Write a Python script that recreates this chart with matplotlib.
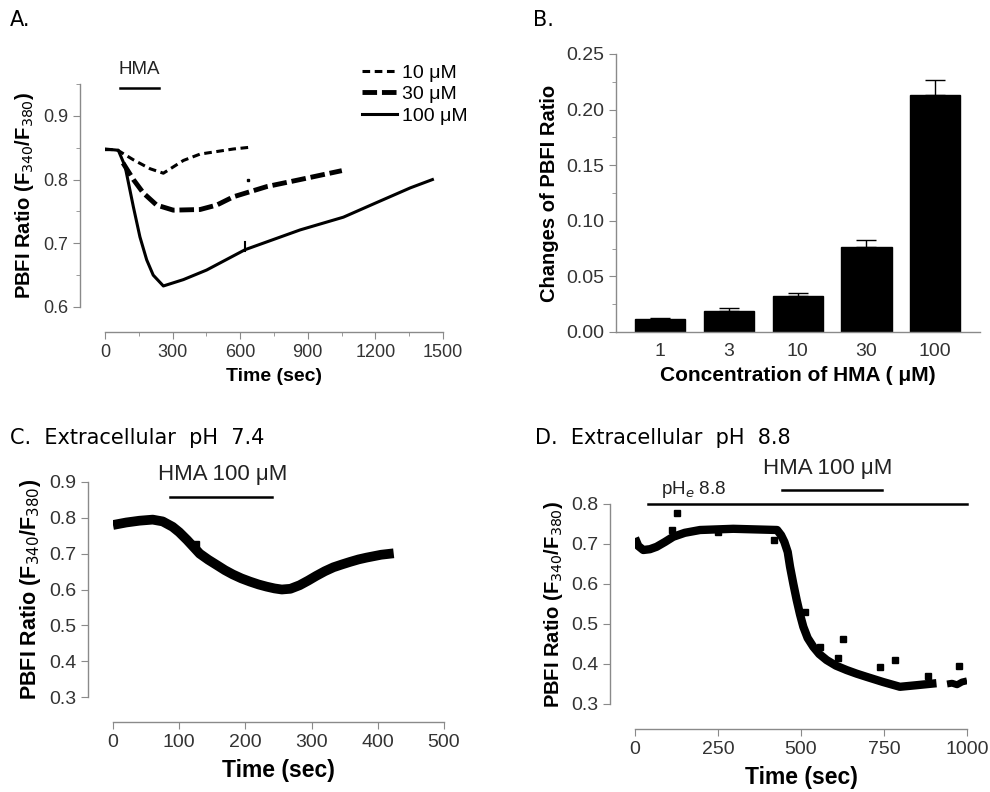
import matplotlib
matplotlib.use("Agg")
import matplotlib.pyplot as plt
from matplotlib.lines import Line2D
from matplotlib.ticker import MultipleLocator, FormatStrFormatter

plt.rcParams['font.family'] = ['Liberation Sans', 'DejaVu Sans']

# Panel A: time courses at three HMA doses
a10_t = [0, 52, 126, 200, 259, 348, 422, 496, 570, 651]
a10_v = [0.847, 0.847, 0.831, 0.817, 0.810, 0.830, 0.840, 0.844, 0.848, 0.851]
a30_t = [80, 126, 170, 229, 303, 422, 496, 570, 718, 866, 1051]
a30_v = [0.826, 0.800, 0.779, 0.760, 0.752, 0.753, 0.760, 0.773, 0.789, 0.800, 0.814]
a100_t = [0, 59, 89, 126, 155, 185, 214, 259, 348, 451, 622, 866, 1058, 1206, 1355, 1453]
a100_v = [0.848, 0.846, 0.821, 0.757, 0.710, 0.674, 0.650, 0.633, 0.643, 0.658, 0.690,
          0.721, 0.741, 0.764, 0.787, 0.800]
a_labels = ['10 μM', '30 μM', '100 μM']

# Panel B: dose response
b_conc = ['1', '3', '10', '30', '100']
b_mean = [0.012, 0.019, 0.032, 0.076, 0.213]
b_err = [0.001, 0.003, 0.003, 0.007, 0.014]

# Panel C: pH 7.4
c_t = [0, 20, 40, 60, 75, 90, 100, 112, 122, 131, 144, 157, 169, 181, 194, 207, 220, 232, 244,
       255, 268, 282, 295, 307, 320, 333, 346, 358, 371, 383, 405, 424]
c_v = [0.780, 0.787, 0.792, 0.795, 0.790, 0.775, 0.760, 0.738, 0.718, 0.700, 0.683, 0.668,
       0.654, 0.642, 0.631, 0.622, 0.614, 0.608, 0.603, 0.600, 0.602, 0.612, 0.625, 0.638,
       0.651, 0.662, 0.670, 0.677, 0.684, 0.689, 0.697, 0.701]

# Panel D: pH 8.8
d_t = [0, 10, 25, 45, 65, 90, 115, 150, 196, 296, 428, 440, 450, 460, 467, 477, 487, 497, 507,
       520, 537, 555, 577, 605, 637, 667, 697, 747, 798, 848, 908]
d_v = [0.715, 0.695, 0.685, 0.687, 0.693, 0.705, 0.718, 0.728, 0.735, 0.738, 0.735, 0.722,
       0.705, 0.680, 0.643, 0.600, 0.560, 0.524, 0.493, 0.465, 0.443, 0.425, 0.410, 0.396,
       0.385, 0.376, 0.368, 0.355, 0.343, 0.347, 0.352]
d_tail_t = [940, 955, 970, 985, 1000]
d_tail_v = [0.350, 0.352, 0.348, 0.355, 0.358]
d_out_t = [110, 127, 250, 420, 512, 557, 612, 627, 738, 783, 883, 977]
d_out_v = [0.735, 0.777, 0.730, 0.710, 0.530, 0.443, 0.415, 0.462, 0.393, 0.410, 0.370, 0.395]

SPINE = '#8a8a8a'
TICKC = '#333333'


def style_axes(ax, tsize, offset=True):
    for s in ['top', 'right']:
        ax.spines[s].set_visible(False)
    for s in ['left', 'bottom']:
        ax.spines[s].set_color(SPINE)
        ax.spines[s].set_linewidth(1)
        if offset:
            ax.spines[s].set_position(('outward', 18))
    ax.tick_params(which='both', colors=SPINE, labelcolor=TICKC, labelsize=tsize, direction='out')
    ax.tick_params(which='major', length=5)
    ax.tick_params(which='minor', length=3)


fig = plt.figure(figsize=(9.9, 7.92), dpi=100)
ylab = 'PBFI Ratio (F$_{340}$/F$_{380}$)'

# ---- A ----
axA = fig.add_axes([105 / 990, 1 - 307 / 792, 338 / 990, 223 / 792])
style_axes(axA, 13)
axA.plot(a10_t, a10_v, color='black', lw=2.2, ls=(0, (2.5, 1.5)))
axA.plot(a30_t, a30_v, color='black', lw=3.5, ls=(0, (3, 1)))
axA.plot(a100_t, a100_v, color='black', lw=2.2)
axA.plot([622, 622], [0.688, 0.702], color='black', lw=1.5)
axA.plot([636], [0.800], 's', color='black', ms=2)
axA.set_xlim(0, 1500)
axA.set_ylim(0.6, 0.95)
axA.xaxis.set_major_locator(MultipleLocator(300))
axA.xaxis.set_minor_locator(MultipleLocator(150))
axA.yaxis.set_major_locator(MultipleLocator(0.1))
axA.yaxis.set_minor_locator(MultipleLocator(0.05))
axA.yaxis.set_major_formatter(FormatStrFormatter('%.1f'))
axA.set_xlabel('Time (sec)', fontsize=14, fontweight='bold', labelpad=5)
axA.set_ylabel(ylab, fontsize=14.5, fontweight='bold', labelpad=5)
axA.plot([65, 240], [0.944, 0.944], color='black', lw=1.8, clip_on=False)
axA.text(152, 0.960, 'HMA', ha='center', va='bottom', fontsize=13.5, color='#222222')
handles = [Line2D([], [], color='black', lw=2.2, ls=(0, (2.5, 1.5))),
           Line2D([], [], color='black', lw=3.5, ls=(0, (3, 1))),
           Line2D([], [], color='black', lw=2.2)]
axA.legend(handles, a_labels, loc='upper left', bbox_to_anchor=(0.76, 1.09), frameon=False,
           fontsize=14, handlelength=1.8, handletextpad=0.25, borderpad=0, borderaxespad=0,
           labelspacing=0.2)

# ---- B ----
axB = fig.add_axes([616 / 990, 1 - 332 / 792, 364 / 990, 278 / 792])
style_axes(axB, 14, offset=False)
xpos = list(range(len(b_conc)))
axB.bar(xpos, b_mean, width=0.73, color='black', edgecolor='black')
axB.errorbar(xpos, b_mean, yerr=[[0] * len(b_err), b_err], fmt='none', ecolor='black',
             elinewidth=1, capsize=7, capthick=1)
axB.set_xlim(-0.64, 4.65)
axB.set_ylim(0, 0.25)
axB.set_xticks(xpos)
axB.set_xticklabels(b_conc)
axB.tick_params(axis='x', length=0, pad=8)
axB.yaxis.set_major_locator(MultipleLocator(0.05))
axB.yaxis.set_minor_locator(MultipleLocator(0.025))
axB.yaxis.set_major_formatter(FormatStrFormatter('%.2f'))
axB.set_xlabel('Concentration of HMA ( μM)', fontsize=15, fontweight='bold', labelpad=4)
axB.set_ylabel('Changes of PBFI Ratio', fontsize=14.5, fontweight='bold', labelpad=5)

# ---- C ----
axC = fig.add_axes([113 / 990, 1 - 697 / 792, 331 / 990, 215 / 792])
style_axes(axC, 14)
axC.plot(c_t, c_v, color='black', lw=7, solid_capstyle='butt')
axC.plot([126], [0.727], 's', color='black', ms=4)
axC.set_xlim(0, 500)
axC.set_ylim(0.3, 0.9)
axC.xaxis.set_major_locator(MultipleLocator(100))
axC.yaxis.set_major_locator(MultipleLocator(0.1))
axC.yaxis.set_major_formatter(FormatStrFormatter('%.1f'))
axC.set_xlabel('Time (sec)', fontsize=16.5, fontweight='bold', labelpad=6)
axC.set_ylabel(ylab, fontsize=15.5, fontweight='bold', labelpad=4)
axC.plot([86, 240], [0.858, 0.858], color='black', lw=1.8, clip_on=False)
axC.text(166, 0.893, 'HMA 100 μM', ha='center', va='bottom', fontsize=16, color='#222222')

# ---- D ----
axD = fig.add_axes([635 / 990, 1 - 704 / 792, 332 / 990, 200 / 792])
style_axes(axD, 14)
axD.plot(d_t, d_v, color='black', lw=6, solid_capstyle='butt')
axD.plot(d_tail_t, d_tail_v, color='black', lw=5, solid_capstyle='butt')
axD.plot(d_out_t, d_out_v, 's', color='black', ms=4, ls='none')
axD.set_xlim(0, 1000)
axD.set_ylim(0.3, 0.8)
axD.xaxis.set_major_locator(MultipleLocator(250))
axD.yaxis.set_major_locator(MultipleLocator(0.1))
axD.yaxis.set_major_formatter(FormatStrFormatter('%.1f'))
axD.set_xlabel('Time (sec)', fontsize=16.5, fontweight='bold', labelpad=6)
axD.set_ylabel(ylab, fontsize=14.5, fontweight='bold', labelpad=4)
axD.plot([40, 1000], [0.799, 0.799], color='black', lw=1.8, clip_on=False)
axD.plot([443, 744], [0.835, 0.835], color='black', lw=1.8, clip_on=False)
axD.text(178, 0.810, 'pH$_e$ 8.8', ha='center', va='bottom', fontsize=13.5, color='#222222')
axD.text(581, 0.862, 'HMA 100 μM', ha='center', va='bottom', fontsize=16, color='#222222')

# panel titles
tfont = ['DejaVu Sans']
fig.text(10 / 990, 1 - 20 / 792, 'A.', fontsize=15, family=tfont, va='center')
fig.text(533 / 990, 1 - 20 / 792, 'B.', fontsize=15, family=tfont, va='center')
fig.text(10 / 990, 1 - 438 / 792, 'C.  Extracellular  pH  7.4', fontsize=15, family=tfont,
         va='center')
fig.text(535 / 990, 1 - 438 / 792, 'D.  Extracellular  pH  8.8', fontsize=15, family=tfont,
         va='center')

fig.savefig('out.png', dpi=100)
